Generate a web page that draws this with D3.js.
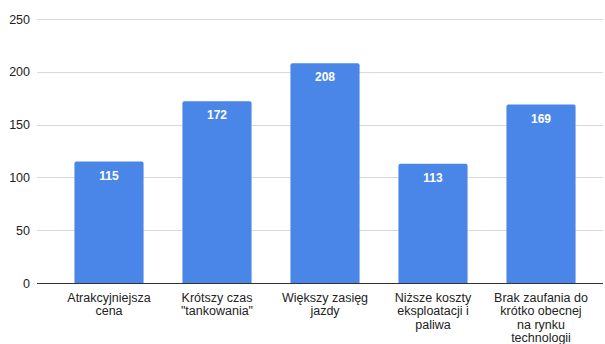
<!DOCTYPE html>
<html>
<head>
<meta charset="utf-8">
<script src="https://cdn.jsdelivr.net/npm/d3@7"></script>
<style>
  html, body { margin: 0; padding: 0; background: #fff; }
  svg { display: block; font-family: "Liberation Sans", Arial, sans-serif; }
</style>
</head>
<body>
<svg id="chart" width="605" height="344"></svg>
<script>
const categories = [
  ["Atrakcyjniejsza", "cena"],
  ["Krótszy czas", "\"tankowania\""],
  ["Większy zasięg", "jazdy"],
  ["Niższe koszty", "eksploatacji i", "paliwa"],
  ["Brak zaufania do", "krótko obecnej", "na rynku", "technologii"]
];
const values = [115, 172, 208, 113, 169];
const yTicks = [0, 50, 100, 150, 200, 250];

const svg = d3.select("#chart");
const gridLeft = 37, gridRight = 603;
const y = d3.scaleLinear().domain([0, 250]).range([283, 19]);
const x = d3.scaleBand().domain(d3.range(values.length)).range([55, 595]).paddingInner(0.36).paddingOuter(0.18);

// horizontal gridlines
svg.append("g").selectAll("line").data(yTicks.filter(d => d > 0)).join("line")
  .attr("x1", gridLeft).attr("x2", gridRight)
  .attr("y1", d => Math.round(y(d)) + 0.5).attr("y2", d => Math.round(y(d)) + 0.5)
  .attr("stroke", "#d9d9d9").attr("stroke-width", 1);

// y axis labels
const yAxis = d3.axisLeft(y).tickValues(yTicks).tickSize(0).tickPadding(0);
svg.append("g").attr("transform", "translate(30,0)").call(yAxis)
  .call(g => g.select(".domain").remove())
  .selectAll("text").attr("font-size", 12.5).attr("fill", "#222").attr("font-family", "Liberation Sans, Arial, sans-serif");

// bars with slightly rounded top corners
const r = 2;
svg.append("g").selectAll("path").data(values).join("path")
  .attr("fill", "#4a86e8")
  .attr("d", (d, i) => {
    const x0 = x(i), x1 = x(i) + x.bandwidth(), y0 = y(0), y1 = y(d);
    return `M${x0},${y0}V${y1 + r}Q${x0},${y1} ${x0 + r},${y1}H${x1 - r}Q${x1},${y1} ${x1},${y1 + r}V${y0}Z`;
  });

// value labels inside bars
svg.append("g").selectAll("text").data(values).join("text")
  .attr("x", (d, i) => x(i) + x.bandwidth() / 2)
  .attr("y", d => y(d) + 18)
  .attr("text-anchor", "middle")
  .attr("font-size", 12).attr("font-weight", "bold").attr("fill", "#fff")
  .text(d => d);

// baseline
svg.append("line").attr("x1", gridLeft).attr("x2", gridRight)
  .attr("y1", Math.round(y(0)) + 0.5).attr("y2", Math.round(y(0)) + 0.5)
  .attr("stroke", "#333").attr("stroke-width", 1);

// category labels (multi-line)
const xAxis = d3.axisBottom(x).tickSize(0).tickFormat(() => "");
const xg = svg.append("g").attr("transform", `translate(0,${y(0)})`).call(xAxis);
xg.select(".domain").remove();
xg.selectAll(".tick").each(function (i) {
  const t = d3.select(this).append("text")
    .attr("text-anchor", "middle").attr("font-size", 12.5).attr("fill", "#222")
    .attr("font-family", "Liberation Sans, Arial, sans-serif");
  categories[i].forEach((line, k) => {
    t.append("tspan").attr("x", 0).attr("y", 19 + k * 13.3).text(line);
  });
});
</script>
</body>
</html>
